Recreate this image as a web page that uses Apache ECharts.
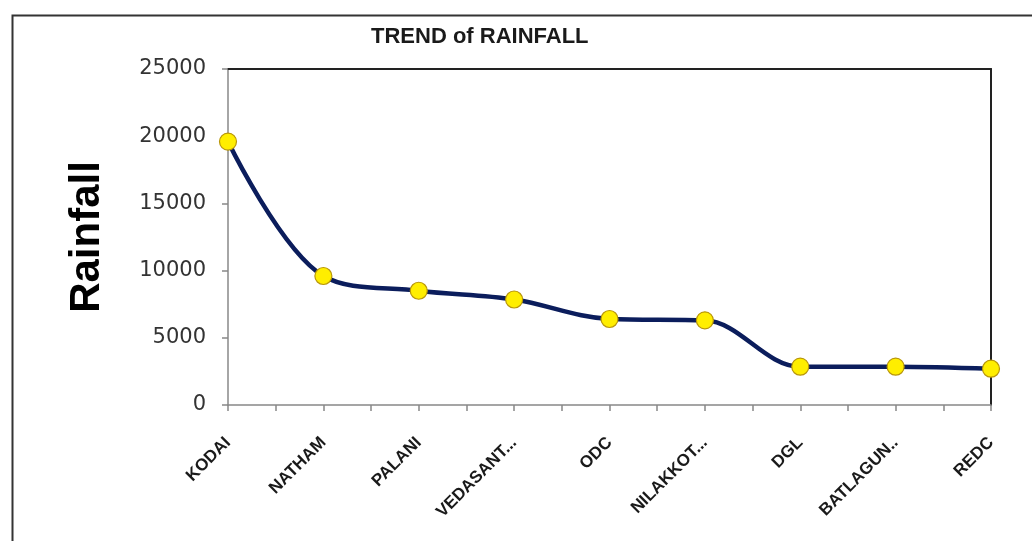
<!DOCTYPE html>
<html>
<head>
<meta charset="utf-8">
<script src="https://cdn.jsdelivr.net/npm/echarts@6/dist/echarts.min.js"></script>
<style>
html,body{margin:0;padding:0;background:#fff;}
#chart{width:1032px;height:541px;}
</style>
</head>
<body>
<div id="chart"></div>
<script>
const categories = ['KODAI','NATHAM','PALANI','VEDASANT...','ODC','NILAKKOT...','DGL','BATLAGUN..','REDC'];
const rainfall = [19600, 9600, 8500, 7850, 6400, 6300, 2850, 2850, 2700];
const yTicks = [0, 5000, 10000, 15000, 20000, 25000];
const titleText = 'TREND of RAINFALL';
const yName = 'Rainfall';

// half-category tick positions (ticks between categories as well)
const halfTicks = [];
for (let i = 0; i < categories.length * 2 - 1; i++) halfTicks.push('');

const chart = echarts.init(document.getElementById('chart'), null, {renderer: 'canvas'});
chart.setOption({
  backgroundColor: '#ffffff',
  animation: false,
  title: {
    text: titleText,
    left: 366,
    top: 21,
    textStyle: {fontFamily: 'Liberation Sans, Arial', fontWeight: 'bold', fontSize: 22, color: '#1a1a1a'}
  },
  graphic: [{
    type: 'rect', left: 10, top: 13, silent: true,
    shape: {width: 1060, height: 600},
    style: {fill: 'none', stroke: '#333', lineWidth: 2}
  }],
  grid: {left: 228, right: 41, top: 69, bottom: 136},
  xAxis: [{
    type: 'category', data: categories, boundaryGap: false, position: 'bottom',
    axisLine: {show: true, lineStyle: {color: '#888', width: 1.5}},
    axisTick: {show: false},
    axisLabel: {
      interval: 0, rotate: 45, margin: 35,
      fontFamily: 'Liberation Sans, Arial', fontWeight: 'bold', fontSize: 17, color: '#1a1a1a'
    },
    splitLine: {show: false}
  }, {
    type: 'category', data: halfTicks, boundaryGap: false, position: 'bottom',
    axisLine: {show: false},
    axisTick: {show: true, interval: 0, length: 6, lineStyle: {color: '#888', width: 1.5}},
    axisLabel: {show: false},
    splitLine: {show: false}
  }, {
    type: 'category', data: categories, boundaryGap: false, position: 'top',
    axisLine: {show: true, lineStyle: {color: '#222', width: 2}},
    axisTick: {show: false}, axisLabel: {show: false}, splitLine: {show: false}
  }],
  yAxis: [{
    type: 'value', min: yTicks[0], max: yTicks[yTicks.length - 1], interval: 5000, position: 'left',
    name: yName, nameLocation: 'middle', nameRotate: 90, nameGap: 120,
    nameTextStyle: {fontFamily: 'Liberation Sans, Arial', fontWeight: 'bold', fontSize: 42, color: '#000'},
    axisLine: {show: true, lineStyle: {color: '#888', width: 1.5}},
    axisTick: {show: true, length: 6, lineStyle: {color: '#888', width: 1.5}},
    axisLabel: {margin: 22, fontFamily: 'DejaVu Sans', fontSize: 21, color: '#333',
      formatter: function (v) { return String(v); }},
    splitLine: {show: false}
  }, {
    type: 'value', min: yTicks[0], max: yTicks[yTicks.length - 1], interval: 5000, position: 'right',
    axisLine: {show: true, lineStyle: {color: '#222', width: 2}},
    axisTick: {show: false}, axisLabel: {show: false}, splitLine: {show: false}
  }],
  series: [{
    type: 'line',
    data: rainfall,
    xAxisIndex: 0, yAxisIndex: 0,
    smooth: 0.35,
    lineStyle: {color: '#0b1d5c', width: 4.5},
    symbol: 'circle', symbolSize: 17,
    itemStyle: {color: '#ffee00', borderColor: '#b8960a', borderWidth: 1.2},
    z: 5
  }]
});
</script>
</body>
</html>
